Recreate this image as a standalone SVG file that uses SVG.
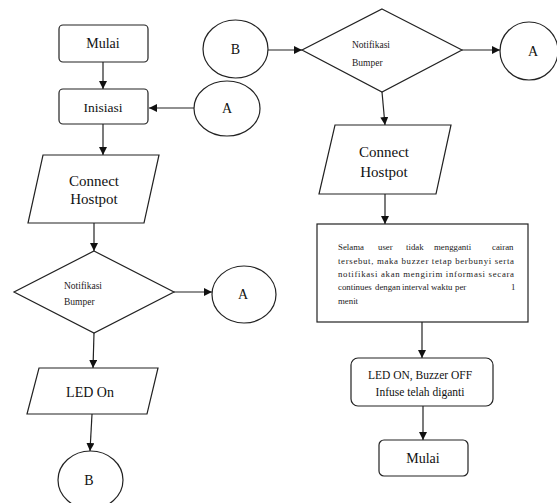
<svg xmlns="http://www.w3.org/2000/svg" width="557" height="503" viewBox="0 0 557 503">
<style>
.s{fill:#fff;stroke:#222;stroke-width:1.2}
.t{font-family:'Liberation Serif','DejaVu Serif','Times New Roman',serif;fill:#111;text-anchor:middle}
.c{stroke:#222;stroke-width:1.2;fill:none;marker-end:url(#ah)}
.sm{font-family:'Liberation Serif','DejaVu Serif','Times New Roman',serif;fill:#222;font-size:9.5px}
.tx{font-family:'Liberation Serif','DejaVu Serif','Times New Roman',serif;fill:#222;font-size:8.8px}
</style>
<defs>
<marker id="ah" viewBox="0 0 10 10" refX="10" refY="5" markerWidth="8" markerHeight="8" markerUnits="userSpaceOnUse" orient="auto">
<path d="M0,0 L10,5 L0,10 z" fill="#111"/>
</marker>
</defs>
<rect width="557" height="503" fill="#fff"/>
<g id="connectors">
<line class="c" x1="103" y1="62" x2="103" y2="89"/>
<line class="c" x1="194" y1="108" x2="149" y2="108"/>
<line class="c" x1="103" y1="124" x2="103" y2="155"/>
<line class="c" x1="94" y1="223" x2="94" y2="251"/>
<line class="c" x1="174" y1="292" x2="212" y2="292"/>
<line class="c" x1="94" y1="333" x2="93" y2="368"/>
<line class="c" x1="92" y1="414" x2="90" y2="451"/>
<line class="c" x1="268" y1="50" x2="302" y2="50"/>
<line class="c" x1="462" y1="50" x2="500" y2="50"/>
<line class="c" x1="382" y1="92" x2="385" y2="125"/>
<line class="c" x1="385" y1="194" x2="385" y2="224"/>
<line class="c" x1="422" y1="322" x2="422" y2="358"/>
<line class="c" x1="423" y1="406" x2="423" y2="440"/>
</g>
<g id="mulai1">
<rect class="s" x="59" y="25" width="89" height="37" rx="4"/>
<text class="t" x="103" y="48" font-size="14">Mulai</text>
</g>
<g id="inisiasi">
<rect class="s" x="59" y="89" width="89" height="35" rx="4"/>
<text class="t" x="103" y="112" font-size="13.5">Inisiasi</text>
</g>
<g id="circleA1">
<ellipse class="s" cx="227" cy="108.5" rx="33" ry="27.5"/>
<text class="t" x="227" y="113" font-size="14">A</text>
</g>
<g id="circleB1">
<ellipse class="s" cx="235.5" cy="49" rx="32.5" ry="29"/>
<text class="t" x="235.5" y="54" font-size="14">B</text>
</g>
<g id="connect1">
<polygon class="s" points="43,155 159,155 144,223 28,223"/>
<text class="t" x="94" y="186" font-size="15">Connect</text>
<text class="t" x="94" y="204" font-size="15">Hostpot</text>
</g>
<g id="notif1">
<polygon class="s" points="94,251 174,292 94,333 14,292"/>
<text class="sm" x="64" y="289">Notifikasi</text>
<text class="sm" x="64" y="305">Bumper</text>
</g>
<g id="circleA2">
<ellipse class="s" cx="244" cy="294.5" rx="32" ry="28.5"/>
<text class="t" x="243" y="299" font-size="14">A</text>
</g>
<g id="ledon">
<polygon class="s" points="39,368 158,368 147,414 27,414"/>
<text class="t" x="90" y="397" font-size="14">LED On</text>
</g>
<g id="circleB2">
<ellipse class="s" cx="90.5" cy="480" rx="32.5" ry="29"/>
<text class="t" x="89" y="485" font-size="14">B</text>
</g>
<g id="notif2">
<polygon class="s" points="382,9 462,50 382,92 302,50"/>
<text class="sm" x="352" y="48">Notifikasi</text>
<text class="sm" x="352" y="66">Bumper</text>
</g>
<g id="circleA3">
<ellipse class="s" cx="529" cy="51" rx="29" ry="29"/>
<text class="t" x="533" y="56" font-size="14">A</text>
</g>
<g id="connect2">
<polygon class="s" points="335,125 451,125 436,194 319,194"/>
<text class="t" x="384" y="157" font-size="15">Connect</text>
<text class="t" x="384" y="177" font-size="15">Hostpot</text>
</g>
<g id="keterangan">
<rect class="s" x="317" y="224" width="211" height="98"/>
<text class="tx" y="250"><tspan x="338">Selama</tspan> <tspan x="378">user</tspan> <tspan x="406">tidak</tspan> <tspan x="434">mengganti</tspan> <tspan x="492">cairan</tspan></text>
<text class="tx" x="338" y="264" textLength="176" lengthAdjust="spacing">tersebut, maka buzzer tetap berbunyi serta</text>
<text class="tx" x="338" y="277" textLength="176" lengthAdjust="spacing">notifikasi akan mengirim informasi secara</text>
<text class="tx" y="290"><tspan x="338">continues</tspan> <tspan x="375">dengan</tspan> <tspan x="402">interval</tspan> <tspan x="431">waktu</tspan> <tspan x="455">per</tspan> <tspan x="511">1</tspan></text>
<text class="tx" x="338" y="304">menit</text>
</g>
<g id="ledbuzzer">
<rect class="s" x="351" y="358" width="142" height="48" rx="7"/>
<text class="t" x="420" y="379" font-size="11.5">LED ON, Buzzer OFF</text>
<text class="t" x="420" y="396" font-size="11.5">Infuse telah diganti</text>
</g>
<g id="mulai2">
<rect class="s" x="379" y="440" width="89" height="36" rx="5"/>
<text class="t" x="423" y="463" font-size="14">Mulai</text>
</g>
</svg>
